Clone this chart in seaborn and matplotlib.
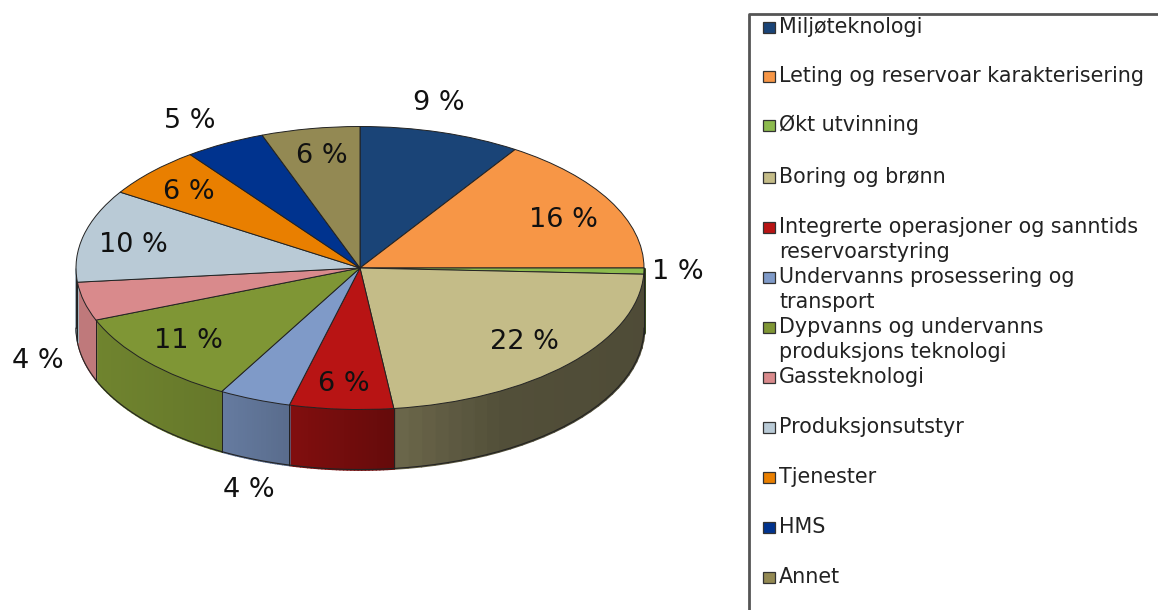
import numpy as np
import seaborn as sns
import matplotlib.pyplot as plt
from matplotlib.colors import to_rgb
from matplotlib.patches import Rectangle

categories = ["Miljøteknologi", "Leting og reservoar karakterisering", "Økt utvinning",
              "Boring og brønn", "Integrerte operasjoner og sanntids\nreservoarstyring",
              "Undervanns prosessering og\ntransport", "Dypvanns og undervanns\nproduksjons teknologi",
              "Gassteknologi", "Produksjonsutstyr", "Tjenester", "HMS", "Annet"]
# prosent slik de er trykt
values = [9, 16, 1, 22, 6, 4, 11, 4, 10, 6, 5, 6]
# andel lest av sektorene i bildet (ikke helt lik den avrundede teksten)
shares = [9.2, 15.8, 0.7, 22.4, 5.9, 4.1, 10.9, 4.4, 10.6, 5.8, 4.6, 5.6]
colors = ["#1a4477", "#f79646", "#8dbb4e", "#c4bc88", "#b81414", "#7f9ac8",
          "#7f9635", "#d98a8c", "#b9cad6", "#e97f00", "#00338e", "#938953"]

# plassering i piksler
label_x = [439, 563, 678, 524, 344, 249, 188, 38, 133, 189, 190, 322]
label_y = [103, 220, 272, 342, 384, 490, 341, 361, 245, 192, 121, 156]
legend_y = [27, 76, 125, 177, 227, 277, 327, 377, 427, 477, 527, 577]

W, H = 1158, 610
cx, cy, rx, ry, depth = 360, 268, 284, 141.5, 60

sns.set_theme(style="white")
plt.rcParams['font.family'] = ['DejaVu Sans']
fig = plt.figure(figsize=(W/100, H/100), dpi=100)

ax = fig.add_axes([0, 0, 1, 1])
ax.pie(shares, colors=colors, startangle=90, counterclock=False, radius=1,
       wedgeprops=dict(edgecolor="#222222", linewidth=0.7, zorder=5))
# pien blir flat: enhetssirkelen strekkes til en ellipse
ax.set_aspect('auto')
ax.set_xlim(-cx/rx, (W-cx)/rx)
ax.set_ylim((cy-H)/ry, cy/ry)
d = depth/ry

# sideveggen, bare nedre halvdel synes
edges = 90 - np.cumsum([0] + shares)*3.6
for i in range(len(shares)):
    hi, lo = min(edges[i], 0), max(edges[i+1], -180)
    if lo >= hi:
        continue
    th = np.radians(np.linspace(hi, lo, 30))
    xs, ys = np.cos(th), np.sin(th)
    base = np.array(to_rgb(colors[i]))
    for j in range(len(th)-1):
        px = cx + rx*xs[j:j+2].mean()
        f = np.interp(px, [95, 221, 290, 393, 500, 645], [0.88, 0.8, 0.7, 0.55, 0.42, 0.4])
        ax.fill_between(xs[j:j+2], ys[j:j+2], ys[j:j+2]-d, facecolor=base*f, edgecolor=base*f,
                        linewidth=1.2, zorder=2)
    ax.plot(xs, ys-d, color="#222222", lw=0.8, zorder=3)
    for k in (0, -1):
        ax.plot([xs[k], xs[k]], [ys[k], ys[k]-d], color="#222222", lw=0.7, zorder=3)

# tekst og forklaring i piksler
over = fig.add_axes([0, 0, 1, 1])
over.set_xlim(0, W)
over.set_ylim(H, 0)
over.axis('off')

for v, x, y in zip(values, label_x, label_y):
    over.text(x, y, f"{v} %", fontsize=19.5, ha='center', va='center', color="#111111")

over.plot([1158, 749, 749], [14, 14, 610], color="#555555", lw=2, clip_on=False)
for name, col, y in zip(categories, colors, legend_y):
    over.add_patch(Rectangle((763, y-5.5), 12, 11, facecolor=col, edgecolor="#333333", lw=0.9))
    for n, line in enumerate(name.split("\n")):
        over.text(779, y + n*25.5, line, fontsize=14.9, ha='left', va='center', color="#222222")

fig.savefig("out.png", dpi=100)
